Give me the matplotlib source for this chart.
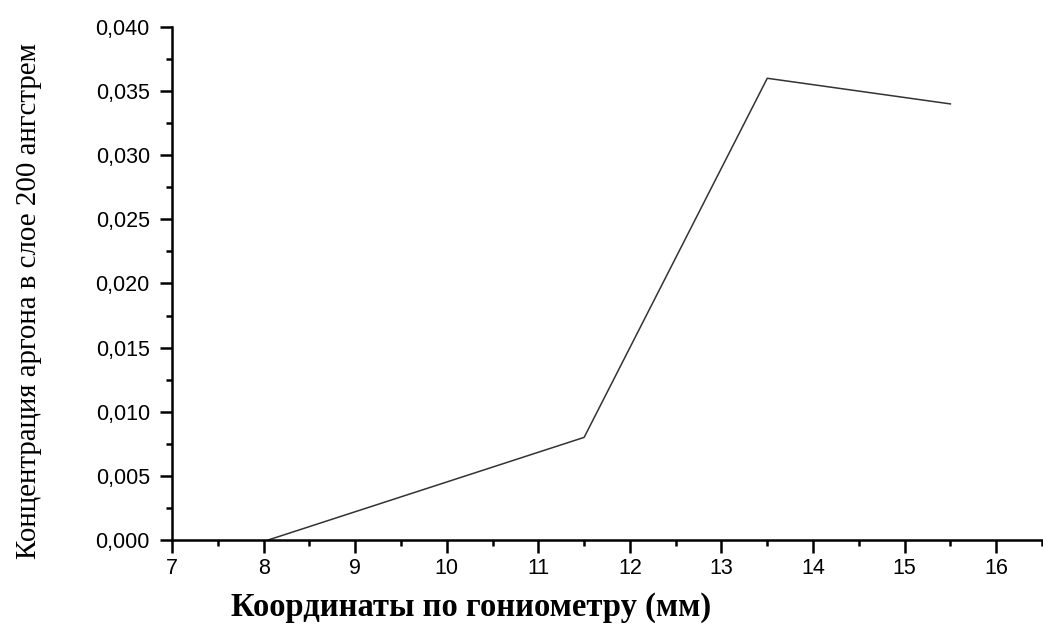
import matplotlib
matplotlib.use("Agg")
import matplotlib.pyplot as plt
from matplotlib.ticker import MultipleLocator, FuncFormatter

# Data
x_mm = [8.05, 11.5, 13.5, 15.5]
argon_conc = [0.0, 0.008, 0.036, 0.034]
x_label = "Координаты по гониометру (мм)"
y_label = "Концентрация аргона в слое 200 ангстрем"

fig = plt.figure(figsize=(10.43, 6.30), dpi=100)
ax = fig.add_axes([0.165, 0.1429, 0.834, 0.8143])

ax.plot(x_mm, argon_conc, color="#333333", linewidth=1.1)

ax.set_xlim(7, 16.5)
ax.set_ylim(0, 0.040)
ax.xaxis.set_major_locator(MultipleLocator(1))
ax.xaxis.set_minor_locator(MultipleLocator(0.5))
ax.yaxis.set_major_locator(MultipleLocator(0.005))
ax.yaxis.set_minor_locator(MultipleLocator(0.0025))
ax.yaxis.set_major_formatter(FuncFormatter(lambda v, p: f"{v:.3f}".replace(".", ",")))
ax.xaxis.set_major_formatter(FuncFormatter(lambda v, p: f"{int(round(v))}"))

for s in ["top", "right"]:
    ax.spines[s].set_visible(False)
for s in ["left", "bottom"]:
    ax.spines[s].set_linewidth(1.8)

ax.tick_params(which="major", direction="out", length=9, width=1.8,
               labelsize=15.5)
ax.tick_params(axis="y", which="major", pad=7)
ax.tick_params(axis="x", which="major", pad=4)
ax.tick_params(which="minor", direction="out", length=4.5, width=1.8)
for lab in ax.get_xticklabels() + ax.get_yticklabels():
    lab.set_fontfamily("Liberation Sans")

fig.text(0.452, 0.035, x_label, ha="center", va="center",
         fontfamily="Liberation Serif", fontweight="bold", fontsize=23.5)
fig.text(0.028, 0.522, y_label, ha="center", va="center", rotation=90,
         fontfamily="Liberation Serif", fontsize=20.8)

fig.savefig("out.png", dpi=100)
